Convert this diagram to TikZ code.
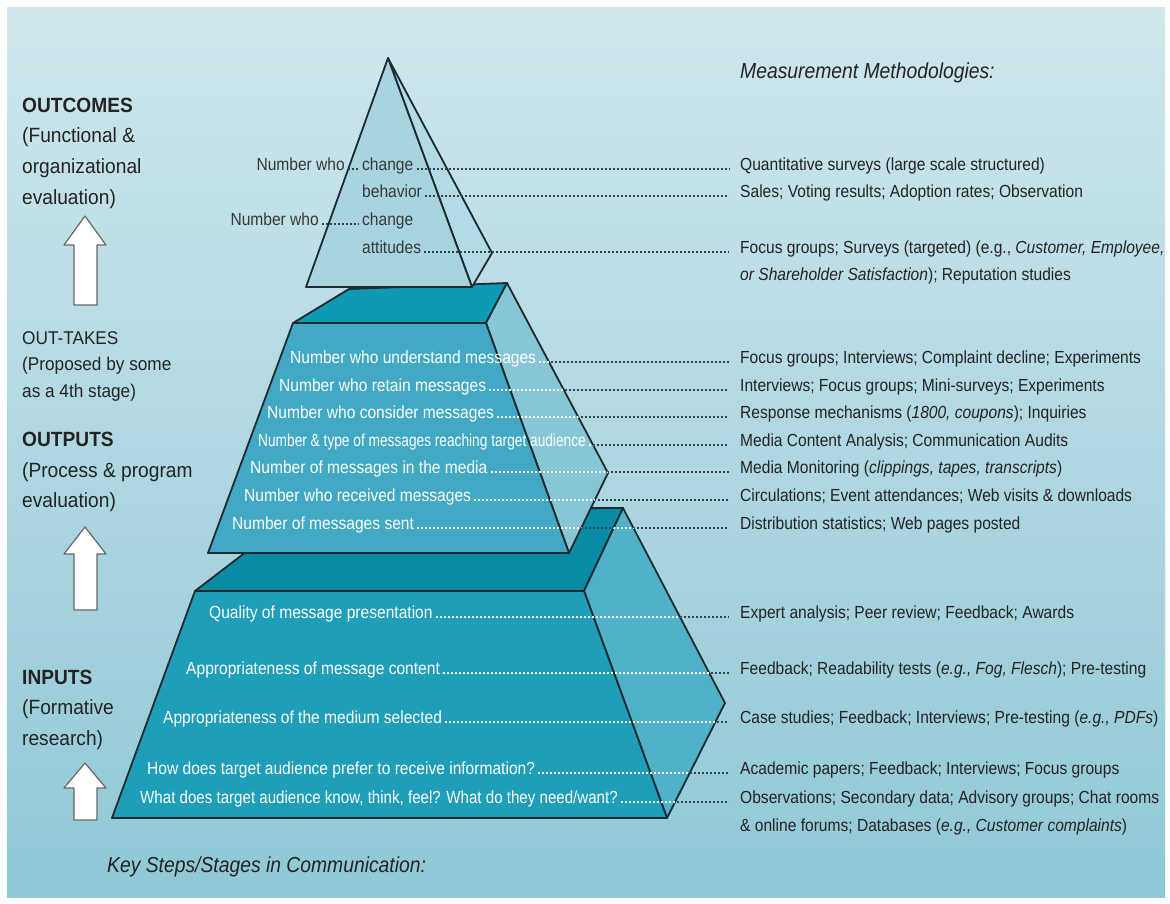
\documentclass[tikz,border=0pt]{standalone}
\usepackage{fontspec}
\setmainfont{Liberation Sans}[FakeStretch=0.89]
\newfontfamily\labfont{Liberation Sans}[FakeStretch=0.93]
\usepackage{graphicx}
\definecolor{bgtop}{HTML}{CFE7ED}
\definecolor{bgbot}{HTML}{90C8D6}
\definecolor{tF}{HTML}{A8D4E0}
\definecolor{tS}{HTML}{B3DBE5}
\definecolor{mT}{HTML}{0E9AB4}
\definecolor{mF}{HTML}{41A9C3}
\definecolor{mS}{HTML}{86C6D7}
\definecolor{bT}{HTML}{098BA6}
\definecolor{bF}{HTML}{1E9EB8}
\definecolor{bS}{HTML}{4FB2C9}
\definecolor{edge}{HTML}{1B2B30}
\definecolor{txt}{HTML}{232323}
\definecolor{tgrey}{HTML}{383838}
\definecolor{dotc}{HTML}{35444A}
\definecolor{arrc}{HTML}{666666}
\newcommand\mf{\fontsize{17.5}{21}\selectfont}
\newcommand\lf{\labfont\fontsize{20.6}{24}\selectfont}
\newcommand\lfs{\labfont\fontsize{18.5}{22}\selectfont}
\tikzset{
  face/.style={draw=edge, line width=1.8pt, line join=round},
  rtext/.style={anchor=base west, inner sep=0pt, text=txt, font=\mf},
  ptext/.style={anchor=base west, inner sep=0pt, text=white, font=\mf},
  ttext/.style={anchor=base west, inner sep=0pt, text=tgrey, font=\mf},
  lab/.style={anchor=base west, inner sep=0pt, text=txt, font=\lf},
  labs/.style={anchor=base west, inner sep=0pt, text=txt, font=\lfs},
  ttl/.style={anchor=base west, inner sep=0pt, text=txt, font=\itshape\fontsize{21.7}{25}\selectfont},
  leader/.style={draw=dotc, line width=2pt, dash pattern=on 2pt off 2pt, shorten <=3pt, shorten >=11pt},
  wleader/.style={leader, draw=white},
  shortleader/.style={leader, shorten >=3pt},
  barrow/.style={draw=arrc, fill=white, line width=1.2pt, line join=round}
}
\begin{document}
\begin{tikzpicture}[x=1pt,y=-1pt]
\useasboundingbox (0,0) rectangle (1170,903);
\fill[white] (0,0) rectangle (1170,903);
\shade[top color=bgtop,bottom color=bgbot] (7,7) rectangle (1165,897);

% geometry
\coordinate (bTL) at (195,591); \coordinate (bTR) at (584,591);
\coordinate (bBR) at (667,818); \coordinate (bBL) at (112,818);
\coordinate (bBkL) at (302,509); \coordinate (bBkR) at (623,508);
\coordinate (bSR) at (725,703);
\coordinate (mTL) at (293,323); \coordinate (mTR) at (486,323);
\coordinate (mBR) at (569,553); \coordinate (mBL) at (208,553);
\coordinate (mBkL) at (349,289); \coordinate (mBkR) at (507,283);
\coordinate (mSR) at (608,473);
\coordinate (apex) at (388,58); \coordinate (tL) at (306,287);
\coordinate (tR) at (472,287); \coordinate (tSR) at (492,253);

% bottom frustum
\draw[face, fill=bT] (bTL) -- (bBkL) -- (bBkR) -- (bTR) -- cycle;
\draw[face, fill=bS] (bTR) -- (bBkR) -- (bSR) -- (bBR) -- cycle;
\draw[face, fill=bF] (bTL) -- (bTR) -- (bBR) -- (bBL) -- cycle;
% middle frustum
\draw[face, fill=mT] (mTL) -- (mBkL) -- (mBkR) -- (mTR) -- cycle;
\draw[face, fill=mS] (mTR) -- (mBkR) -- (mSR) -- (mBR) -- cycle;
\draw[face, fill=mF] (mTL) -- (mTR) -- (mBR) -- (mBL) -- cycle;
% top pyramid
\draw[face, fill=tS] (apex) -- (tSR) -- (tR) -- cycle;
\draw[face, fill=tF] (apex) -- (tR) -- (tL) -- cycle;

% left block arrows
\draw[barrow] (74,305) -- (74,245) -- (64,245) -- (85,216) -- (106,245) -- (97,245) -- (97,305) -- cycle;
\draw[barrow] (74,610) -- (74,554) -- (64,554) -- (85,527) -- (106,554) -- (97,554) -- (97,610) -- cycle;
\draw[barrow] (74,820) -- (74,788) -- (64,788) -- (85,763) -- (106,788) -- (97,788) -- (97,820) -- cycle;

% left labels
\node[lab] (l1) at (22,112) {\textbf{OUTCOMES}};
\node[lab] (l2) at (22,142) {(Functional \&};
\node[lab] (l3) at (22,173) {organizational};
\node[lab] (l4) at (22,204) {evaluation)};
\node[labs] (l5) at (22,344) {OUT-TAKES};
\node[labs] (l6) at (22,370) {(Proposed by some};
\node[labs] (l7) at (22,397) {as a 4th stage)};
\node[lab] (l8) at (22,446) {\textbf{OUTPUTS}};
\node[lab] (l9) at (22,477) {(Process \& program};
\node[lab] (l10) at (22,507) {evaluation)};
\node[lab] (l11) at (22,684) {\textbf{INPUTS}};
\node[lab] (l12) at (22,714) {(Formative};
\node[lab] (l13) at (22,745) {research)};

% titles
\node[ttl] (mm) at (740,78) {Measurement Methodologies:};
\node[ttl] (ks) at (107,872) {Key Steps/Stages in Communication:};

% top pyramid texts
\node[ttext, anchor=base east] (nw1) at (345,170) {Number who};
\node[ttext] (ch1) at (362,170) {change};
\node[ttext] (beh) at (362,197) {behavior};
\node[ttext, anchor=base east] (nw2) at (319,225) {Number who};
\node[ttext] (ch2) at (362,225) {change};
\node[ttext] (att) at (362,253) {attitudes};

% middle texts
\node[ptext] (o1) at (290,363) {Number who understand messages};
\node[ptext] (o2) at (279,391) {Number who retain messages};
\node[ptext] (o3) at (267,418) {Number who consider messages};
\node[ptext] (o4) at (258,446) {\scalebox{0.88}[1]{Number \& type of messages reaching target audience}};
\node[ptext] (o5) at (250,473) {Number of messages in the media};
\node[ptext] (o6) at (244,501) {Number who received messages};
\node[ptext] (o7) at (232,529) {Number of messages sent};

% bottom texts
\node[ptext] (i1) at (209,618) {Quality of message presentation};
\node[ptext] (i2) at (186,674) {Appropriateness of message content};
\node[ptext] (i3) at (163,723) {Appropriateness of the medium selected};
\node[ptext] (i4) at (147,774) {How does target audience prefer to receive information?};
\node[ptext] (i5) at (140,803) {\scalebox{0.97}[1]{What does target audience know, think, feel? What do they need/want?}};

% methodologies
\node[rtext] (q1) at (740,170) {Quantitative surveys (large scale structured)};
\node[rtext] (q2) at (740,197) {Sales; Voting results; Adoption rates; Observation};
\node[rtext] (q3) at (740,253) {Focus groups; Surveys (targeted) (e.g., \textit{Customer, Employee,}};
\node[rtext] (q3b) at (740,280) {\textit{or Shareholder Satisfaction}); Reputation studies};
\node[rtext] (r1) at (740,363) {Focus groups; Interviews; Complaint decline; Experiments};
\node[rtext] (r2) at (740,391) {Interviews; Focus groups; Mini-surveys; Experiments};
\node[rtext] (r3) at (740,418) {Response mechanisms (\textit{1800, coupons}); Inquiries};
\node[rtext] (r4) at (740,446) {Media Content Analysis; Communication Audits};
\node[rtext] (r5) at (740,473) {Media Monitoring (\textit{clippings, tapes, transcripts})};
\node[rtext] (r6) at (740,501) {Circulations; Event attendances; Web visits \& downloads};
\node[rtext] (r7) at (740,529) {Distribution statistics; Web pages posted};
\node[rtext] (s1) at (740,618) {Expert analysis; Peer review; Feedback; Awards};
\node[rtext] (s2) at (740,674) {Feedback; Readability tests (\textit{e.g., Fog, Flesch}); Pre-testing};
\node[rtext] (s3) at (740,723) {Case studies; Feedback; Interviews; Pre-testing (\textit{e.g., PDFs})};
\node[rtext] (s4) at (740,774) {Academic papers; Feedback; Interviews; Focus groups};
\node[rtext] (s5) at (740,803) {Observations; Secondary data; Advisory groups; Chat rooms};
\node[rtext] (s5b) at (740,831) {\& online forums; Databases (\textit{e.g., Customer complaints})};

% dotted leaders
\foreach \a/\b in {nw1/ch1, nw2/ch2}
  \draw[shortleader] ([yshift=1.5pt]\a.base east) -- ([yshift=1.5pt]\b.base west);
\foreach \a/\b in {ch1/q1, beh/q2, att/q3,
  o1/r1, o2/r2, o3/r3, o4/r4, o5/r5, o6/r6, o7/r7,
  i1/s1, i2/s2, i3/s3, i4/s4, i5/s5}
  \draw[leader] ([yshift=1.5pt]\a.base east) -- ([yshift=1.5pt]\b.base west);
\begin{scope}
  \clip (mTL) -- (mBkR) -- (mSR) -- (mBR) -- (mBL) -- cycle
        (bTL) -- (bTR) -- (bBkR) -- (bSR) -- (bBR) -- (bBL) -- cycle;
  \foreach \a/\b in {o1/r1, o2/r2, o3/r3, o4/r4, o5/r5, o6/r6, o7/r7,
    i1/s1, i2/s2, i3/s3, i4/s4, i5/s5}
    \draw[wleader] ([yshift=1.5pt]\a.base east) -- ([yshift=1.5pt]\b.base west);
\end{scope}
\end{tikzpicture}
\end{document}
